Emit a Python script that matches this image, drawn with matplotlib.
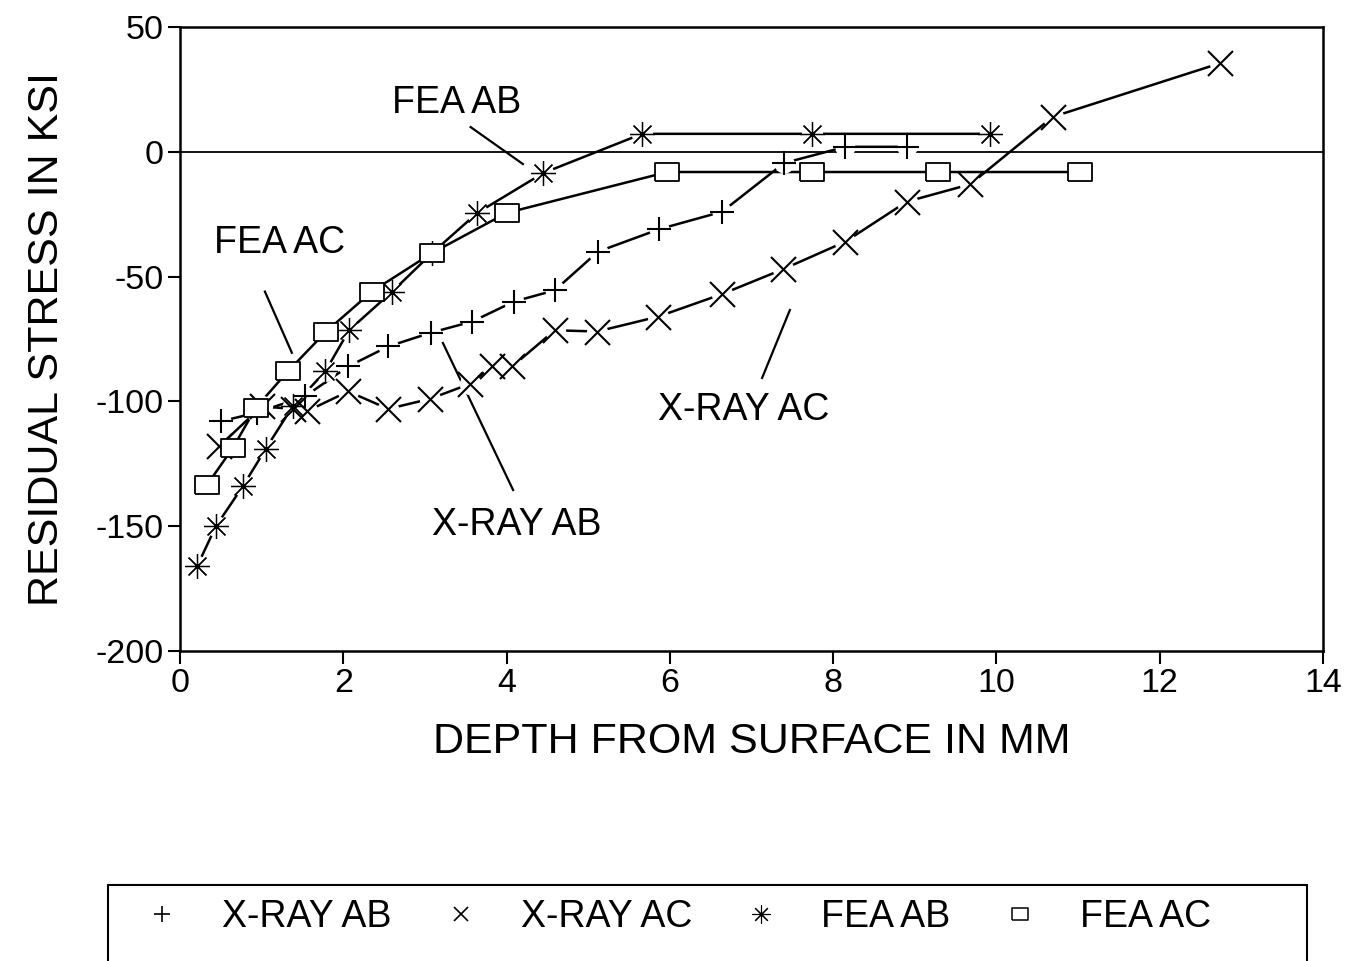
import matplotlib
matplotlib.use('Agg')
import matplotlib.pyplot as plt
from matplotlib.lines import Line2D
from matplotlib.patches import Rectangle

plt.rcParams['font.family'] = ['Liberation Sans', 'DejaVu Sans']
plt.rcParams['axes.unicode_minus'] = False

# data (depth in mm, stress in ksi)
xray_ab_x = [0.5, 0.94, 1.53, 2.06, 2.55, 3.07, 3.58, 4.09, 4.59, 5.12, 5.87, 6.64, 7.40, 8.15, 8.90]
xray_ab_y = [-108, -104.5, -98, -86, -78, -72.5, -68, -60, -55.5, -40, -31, -24, -4.5, 2, 2]

xray_ac_x = [0.48, 1.0, 1.38, 1.55, 2.06, 2.55, 3.06, 3.55, 3.82, 4.07, 4.59, 5.11, 5.86,
             6.64, 7.39, 8.15, 8.90, 9.68, 10.69, 12.74]
xray_ac_y = [-118, -102, -103, -104, -96, -103, -99, -93, -86, -86, -71.5, -72, -66,
             -57, -47, -36, -20, -13, 14, 35.5]

fea_ab_x = [0.21, 0.44, 0.77, 1.05, 1.38, 1.78, 2.07, 2.60, 3.09, 3.64, 4.45, 5.66, 7.74, 9.92]
fea_ab_y = [-166, -150, -134, -119, -102, -88, -71.5, -56, -40.5, -24.5, -8.5, 7.2, 7.2, 7.2]

fea_ac_x = [0.33, 0.65, 0.93, 1.32, 1.79, 2.35, 3.09, 4.0, 5.97, 7.74, 9.28, 11.02]
fea_ac_y = [-133.5, -118.5, -102.5, -88, -72, -56, -40.5, -24.5, -8.1, -8.1, -8.1, -8.1]

labels = ['X-RAY AB', 'X-RAY AC', 'FEA AB', 'FEA AC']
x_ticks = [0, 2, 4, 6, 8, 10, 12, 14]
y_ticks = [-200, -150, -100, -50, 0, 50]

# rectangular box marker like the original (wider than tall)
box = [(-1.3, -1), (1.3, -1), (1.3, 1), (-1.3, 1), (-1.3, -1)]
asterisk = (8, 2, 0)

series = [
    (xray_ab_x, xray_ab_y, '+', 17, 'k', 1.5),
    (xray_ac_x, xray_ac_y, 'x', 18, 'k', 1.5),
    (fea_ab_x, fea_ab_y, asterisk, 18, 'k', 0.9),
    (fea_ac_x, fea_ac_y, box, 17, 'white', 1.3),
]

fig = plt.figure(figsize=(13.56, 9.61), dpi=100)
ax = fig.add_axes([180 / 1356, 1 - 651 / 961, (1323 - 180) / 1356, (651 - 27) / 961])

ax.axhline(0, color='k', lw=1.3, zorder=1)

for xs, ys, m, ms, fc, mw in series:
    ax.plot(xs, ys, color='k', lw=1.8, zorder=2)
    # white blobs so the lines stop short of the markers
    ax.plot(xs, ys, ls='none', marker='o', ms=ms * 0.85, mfc='white', mec='none', zorder=3)
    ax.plot(xs, ys, ls='none', marker=m, ms=ms, mfc=fc, mec='k', mew=mw, zorder=4)

# curve labels with leader lines
ax.text(3.39, 19.6, 'FEA AB', fontsize=27, ha='center', va='center')
ax.plot([3.56, 4.2], [9.9, -4.9], color='k', lw=1.6)
ax.text(1.22, -36.6, 'FEA AC', fontsize=27, ha='center', va='center')
ax.plot([1.04, 1.37], [-56, -80.5], color='k', lw=1.6)
ax.text(4.13, -149.7, 'X-RAY AB', fontsize=27, ha='center', va='center')
ax.plot([3.22, 4.08], [-76.6, -135.5], color='k', lw=1.6)
ax.text(6.90, -103.5, 'X-RAY AC', fontsize=27, ha='center', va='center')
ax.plot([7.47, 7.13], [-63.4, -90.6], color='k', lw=1.6)

ax.set_xlim(0, 14)
ax.set_ylim(-200, 50)
ax.set_xticks(x_ticks)
ax.set_yticks(y_ticks)
ax.tick_params(direction='out', length=9, width=1.5, labelsize=24.5, pad=3)
for s in ax.spines.values():
    s.set_linewidth(1.8)

ax.set_xlabel('DEPTH FROM SURFACE IN MM', fontsize=31, labelpad=17)
ax.set_ylabel('RESIDUAL STRESS IN KSI', fontsize=31, labelpad=20)

handles = [
    Line2D([], [], ls='none', marker='+', ms=12, mec='k', mew=1.2),
    Line2D([], [], ls='none', marker='x', ms=10, mec='k', mew=1.2),
    Line2D([], [], ls='none', marker=asterisk, ms=13, mec='k', mew=0.8),
    Line2D([], [], ls='none', marker=box, ms=12, mfc='white', mec='k', mew=1.1),
]
fig.legend(handles, labels, loc='center left', bbox_to_anchor=(143 / 1356, 1 - 917 / 961),
           ncol=4, frameon=False, fontsize=27, handlelength=1.0, handletextpad=1.1,
           columnspacing=1.35, borderpad=0, borderaxespad=0)
fig.patches.append(Rectangle((108 / 1356, -0.05), (1307 - 108) / 1356, (961 - 885) / 961 + 0.05,
                             transform=fig.transFigure, fill=False, ec='k', lw=1.5))

fig.savefig('out.png', dpi=100)
